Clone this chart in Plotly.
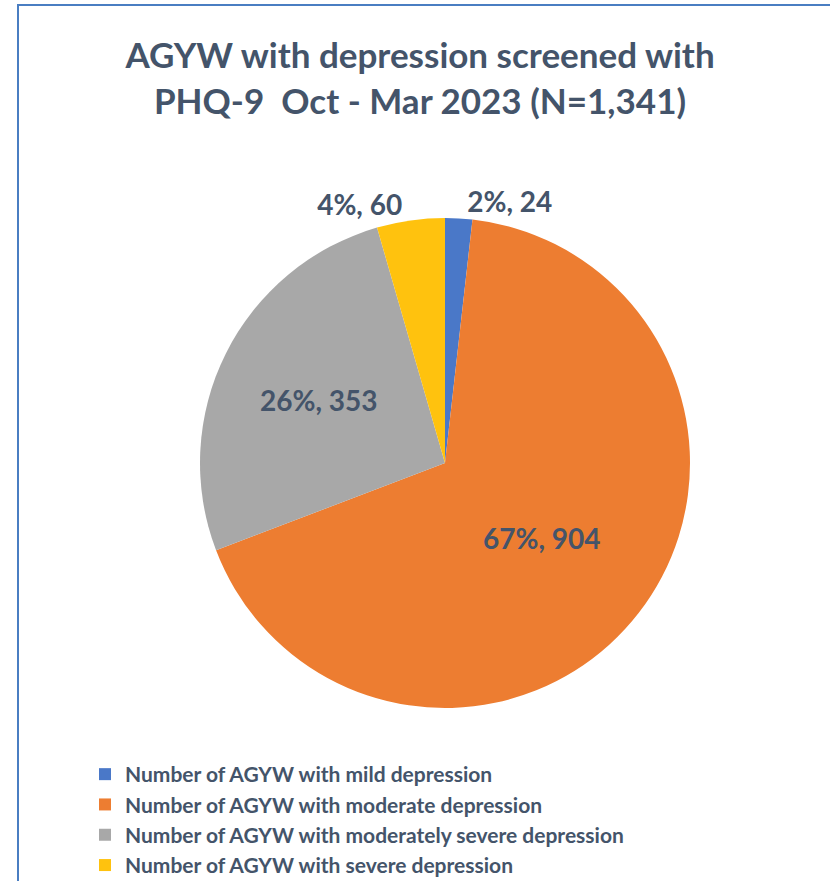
import plotly.graph_objects as go

categories = [
    "Number of AGYW with mild depression",
    "Number of AGYW with moderate depression",
    "Number of AGYW with moderately severe depression",
    "Number of AGYW with severe depression",
]
values = [24, 904, 353, 60]
pct_labels = ["2%", "67%", "26%", "4%"]
colors = ["#4A78C8", "#ED7D31", "#A8A8A8", "#FFC20E"]
text_positions = ["outside", "inside", "inside", "outside"]

W, H = 830, 881
TXT = "#44546A"
FONT = "Lato, 'Open Sans', sans-serif"

labels_text = [f"{p}, {v}" for p, v in zip(pct_labels, values)]

fig = go.Figure(go.Pie(
    labels=categories,
    values=values,
    text=labels_text,
    texttemplate="%{text}",
    textposition=text_positions,
    insidetextorientation="horizontal",
    sort=False,
    direction="clockwise",
    rotation=0,
    marker=dict(colors=colors, line=dict(color="white", width=0)),
    textfont=dict(family=FONT, size=28, color=TXT, weight="bold"),
    outsidetextfont=dict(family=FONT, size=28, color=TXT, weight="bold"),
    insidetextfont=dict(family=FONT, size=28, color=TXT, weight="bold"),
    domain=dict(x=[200 / W, 690 / W], y=[(H - 708) / H, (H - 218) / H]),
    showlegend=True,
    hoverinfo="label+value+percent",
))

fig.update_layout(
    width=W, height=H,
    margin=dict(l=0, r=0, t=0, b=0, autoexpand=False),
    paper_bgcolor="white",
    plot_bgcolor="white",
    title=dict(
        text="AGYW with depression screened with<br>PHQ-9  Oct - Mar 2023 (N=1,341)",
        x=420 / W, xanchor="center",
        y=1 - 68 / H, yanchor="middle",
        font=dict(family=FONT, size=35, color=TXT, weight="bold"),
    ),
    legend=dict(
        x=85 / W, xanchor="left",
        y=1 - 754 / H, yanchor="top",
        font=dict(family=FONT, size=21, color=TXT, weight="bold"),
        bgcolor="rgba(0,0,0,0)",
        itemsizing="constant",
        tracegroupgap=0,
    ),
    shapes=[
        dict(type="rect", xref="paper", yref="paper",
             x0=18 / W, x1=1.05, y0=-0.05, y1=1 - 5 / H,
             line=dict(color="#4A7EC2", width=2), fillcolor="rgba(0,0,0,0)", layer="below"),
    ],
)

fig.write_html("out.html", config={"displayModeBar": False},
               post_script="document.body.style.margin='0px';")
